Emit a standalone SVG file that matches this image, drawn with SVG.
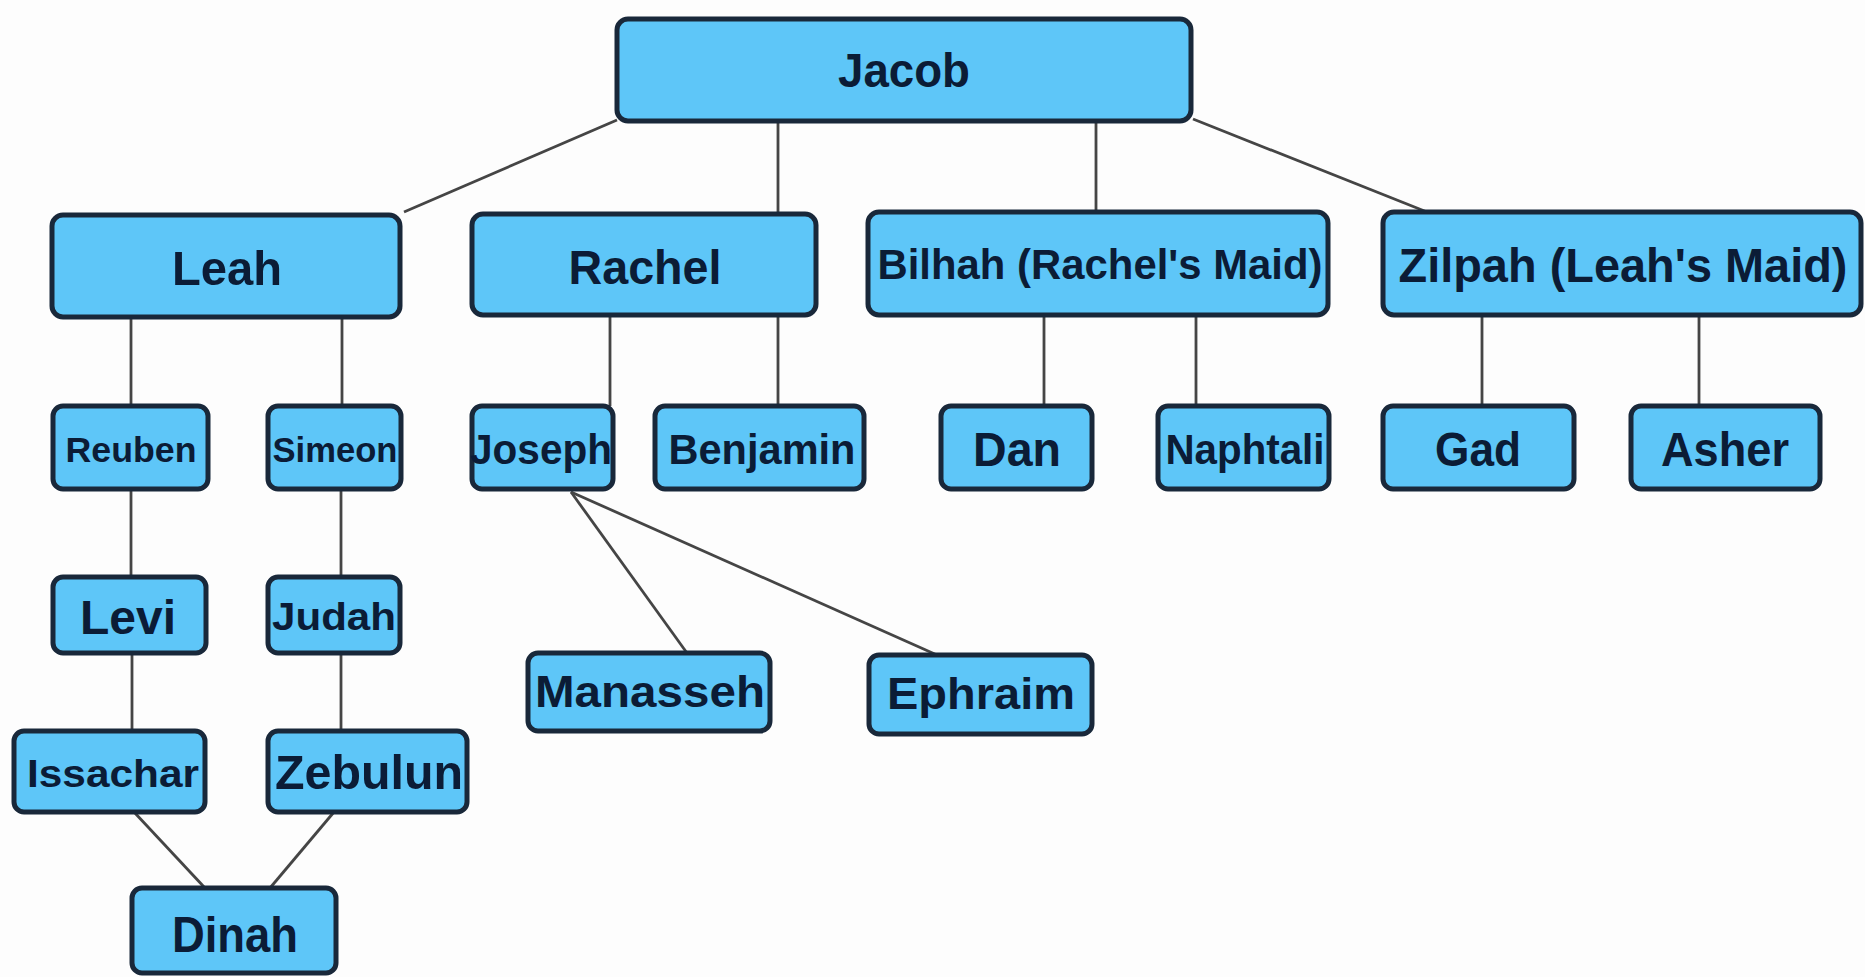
<svg xmlns="http://www.w3.org/2000/svg" width="1865" height="977" viewBox="0 0 1865 977">
<style>
.box{fill:#5ec6f8;stroke:#19283a;stroke-width:5}
.t{font-family:"Liberation Sans",Arial,sans-serif;font-weight:bold;fill:#0b1c36;text-anchor:middle}
.c{stroke:#454545;stroke-width:2.8;fill:none}
</style>
<rect width="1865" height="977" fill="#fdfdfd"/>
<g id="connectors">
<line class="c" x1="617" y1="120" x2="404" y2="212"/>
<line class="c" x1="778" y1="121" x2="778" y2="214"/>
<line class="c" x1="1096" y1="121" x2="1096" y2="212"/>
<line class="c" x1="1193" y1="119" x2="1427" y2="212"/>
<line class="c" x1="131" y1="317" x2="131" y2="406"/>
<line class="c" x1="342" y1="317" x2="342" y2="406"/>
<line class="c" x1="610" y1="315" x2="610" y2="406"/>
<line class="c" x1="778" y1="315" x2="778" y2="406"/>
<line class="c" x1="1044" y1="315" x2="1044" y2="406"/>
<line class="c" x1="1196" y1="315" x2="1196" y2="406"/>
<line class="c" x1="1482" y1="315" x2="1482" y2="406"/>
<line class="c" x1="1699" y1="315" x2="1699" y2="406"/>
<line class="c" x1="131" y1="489" x2="131" y2="577"/>
<line class="c" x1="341" y1="489" x2="341" y2="577"/>
<line class="c" x1="132" y1="653" x2="132" y2="731"/>
<line class="c" x1="341" y1="653" x2="341" y2="731"/>
<line class="c" x1="571" y1="492" x2="687" y2="653"/>
<line class="c" x1="571" y1="492" x2="937" y2="655"/>
<line class="c" x1="134" y1="812" x2="205" y2="888"/>
<line class="c" x1="334" y1="812" x2="270" y2="888"/>
</g>
<g id="jacob"><rect class="box" x="617" y="19" width="574" height="102" rx="11"/><text class="t" x="904" y="87" font-size="48" textLength="132" lengthAdjust="spacingAndGlyphs">Jacob</text></g>
<g id="leah"><rect class="box" x="52" y="215" width="348" height="102" rx="11"/><text class="t" x="227" y="285" font-size="49" textLength="110" lengthAdjust="spacingAndGlyphs">Leah</text></g>
<g id="rachel"><rect class="box" x="472" y="214" width="344" height="101" rx="11"/><text class="t" x="645" y="284" font-size="49" textLength="153" lengthAdjust="spacingAndGlyphs">Rachel</text></g>
<g id="bilhah"><rect class="box" x="868" y="212" width="460" height="103" rx="11"/><text class="t" x="1100" y="279" font-size="43" textLength="445" lengthAdjust="spacingAndGlyphs">Bilhah (Rachel's Maid)</text></g>
<g id="zilpah"><rect class="box" x="1383" y="212" width="478" height="103" rx="11"/><text class="t" x="1623" y="282" font-size="49" textLength="449" lengthAdjust="spacingAndGlyphs">Zilpah (Leah's Maid)</text></g>
<g id="reuben"><rect class="box" x="53" y="406" width="155" height="83" rx="10"/><text class="t" x="131" y="462" font-size="35" textLength="131" lengthAdjust="spacingAndGlyphs">Reuben</text></g>
<g id="simeon"><rect class="box" x="268" y="406" width="133" height="83" rx="10"/><text class="t" x="335" y="462" font-size="35" textLength="125" lengthAdjust="spacingAndGlyphs">Simeon</text></g>
<g id="joseph"><rect class="box" x="472" y="406" width="141" height="83" rx="10"/><text class="t" x="541" y="464" font-size="42" textLength="142" lengthAdjust="spacingAndGlyphs">Joseph</text></g>
<g id="benjamin"><rect class="box" x="655" y="406" width="209" height="83" rx="10"/><text class="t" x="762" y="464" font-size="42" textLength="187" lengthAdjust="spacingAndGlyphs">Benjamin</text></g>
<g id="dan"><rect class="box" x="941" y="406" width="151" height="83" rx="10"/><text class="t" x="1017" y="466" font-size="49" textLength="88" lengthAdjust="spacingAndGlyphs">Dan</text></g>
<g id="naphtali"><rect class="box" x="1158" y="406" width="171" height="83" rx="10"/><text class="t" x="1245" y="464" font-size="42" textLength="159" lengthAdjust="spacingAndGlyphs">Naphtali</text></g>
<g id="gad"><rect class="box" x="1383" y="406" width="191" height="83" rx="10"/><text class="t" x="1478" y="466" font-size="49" textLength="86" lengthAdjust="spacingAndGlyphs">Gad</text></g>
<g id="asher"><rect class="box" x="1631" y="406" width="189" height="83" rx="10"/><text class="t" x="1725" y="466" font-size="49" textLength="128" lengthAdjust="spacingAndGlyphs">Asher</text></g>
<g id="levi"><rect class="box" x="53" y="577" width="153" height="76" rx="10"/><text class="t" x="128" y="634" font-size="48" textLength="96" lengthAdjust="spacingAndGlyphs">Levi</text></g>
<g id="judah"><rect class="box" x="268" y="577" width="132" height="76" rx="10"/><text class="t" x="334" y="630" font-size="39" textLength="124" lengthAdjust="spacingAndGlyphs">Judah</text></g>
<g id="manasseh"><rect class="box" x="528" y="653" width="242" height="78" rx="10"/><text class="t" x="650" y="707" font-size="45" textLength="230" lengthAdjust="spacingAndGlyphs">Manasseh</text></g>
<g id="ephraim"><rect class="box" x="869" y="655" width="223" height="79" rx="10"/><text class="t" x="981" y="709" font-size="45" textLength="188" lengthAdjust="spacingAndGlyphs">Ephraim</text></g>
<g id="issachar"><rect class="box" x="14" y="731" width="191" height="81" rx="10"/><text class="t" x="113" y="787" font-size="39" textLength="172" lengthAdjust="spacingAndGlyphs">Issachar</text></g>
<g id="zebulun"><rect class="box" x="268" y="731" width="199" height="81" rx="10"/><text class="t" x="369" y="789" font-size="48" textLength="188" lengthAdjust="spacingAndGlyphs">Zebulun</text></g>
<g id="dinah"><rect class="box" x="132" y="888" width="204" height="85" rx="10"/><text class="t" x="235" y="952" font-size="50" textLength="126" lengthAdjust="spacingAndGlyphs">Dinah</text></g>
</svg>
